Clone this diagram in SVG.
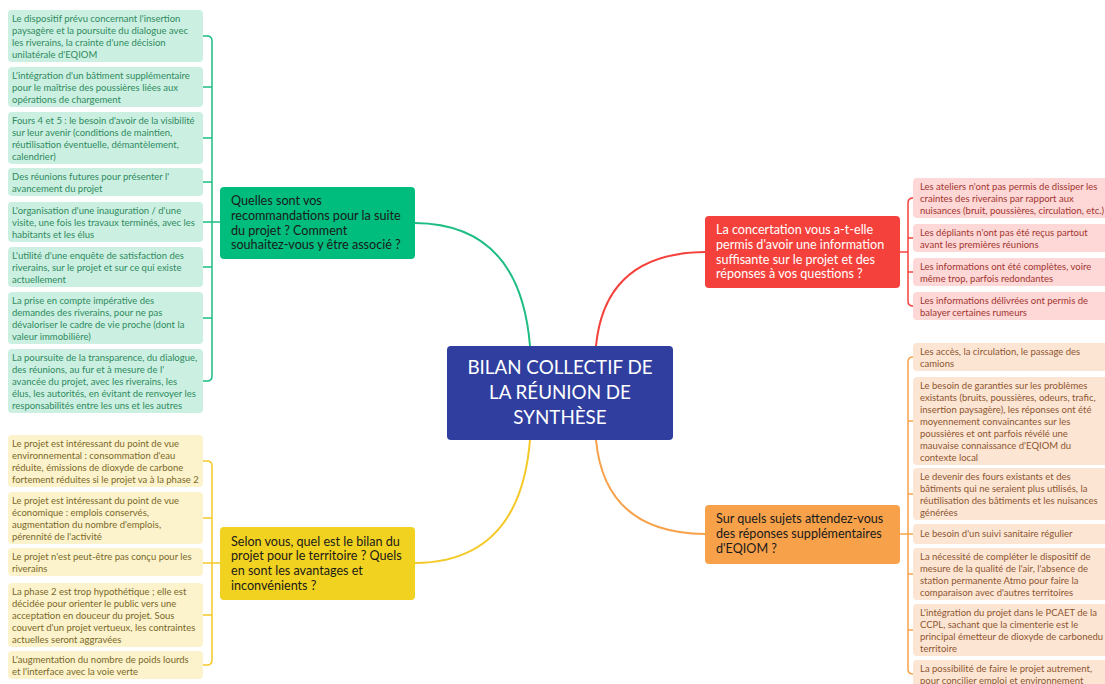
<svg xmlns="http://www.w3.org/2000/svg" width="1105" height="684" viewBox="0 0 1105 684">
<style>
text{font-family:Lato,"Liberation Sans",sans-serif}
.lf{font-size:9.5px}
.tp{font-size:12.6px}
.g rect.leaf{fill:#cbf0e1}
.g text{fill:#2f8a60}
.y rect.leaf{fill:#fcf3cc}
.y text{fill:#7a6828}
.r rect.leaf{fill:#fdd8d7}
.r text{fill:#a2352f}
.o rect.leaf{fill:#fde5d4}
.o text{fill:#8c5630}
.ln{fill:none;stroke-width:2}
.br{fill:none;stroke-width:1.5}
.ct{font-size:18.8px;fill:#fff;text-anchor:middle}
</style>
<g id="connectors">
<path class="ln" stroke="#1dbd83" d="M415,223 Q520,224 530,346"/>
<path class="ln" stroke="#f5c928" d="M415,563 Q520,562 530,440"/>
<path class="ln" stroke="#f5413b" d="M705,252 Q605,253 596,346"/>
<path class="ln" stroke="#f7a24b" d="M705,534 Q605,533 596,440"/>
<path class="br" stroke="#1dbd83" d="M203,36 H207 Q212,36 212,41 V376 Q212,381 207,381 H203 M203,87 H212 M203,138 H212 M203,182 H212 M203,222 H220 M203,267 H212 M203,318 H212"/>
<path class="br" stroke="#f5c928" d="M203,461 H207 Q212,461 212,466 V660 Q212,665 207,665 H203 M203,518 H212 M203,563 H220 M203,615 H212"/>
<path class="br" stroke="#f5413b" d="M913,198 H913 Q908,198 908,203 V301 Q908,306 913,306 M908,238 H913 M908,272 H913 M900,252 H908"/>
<path class="br" stroke="#f7a24b" d="M913,357 Q908,357 908,362 V669 Q908,674 913,674 M908,421 H913 M908,494 H913 M900,534 H913 M908,574 H913 M908,630 H913"/>
</g>
<g id="central">
<rect x="447" y="346" width="226" height="94" rx="4" fill="#303f9f"/>
<text class="ct" x="560" y="374">BILAN COLLECTIF DE</text>
<text class="ct" x="560" y="399">LA RÉUNION DE</text>
<text class="ct" x="560" y="424">SYNTHÈSE</text>
</g>
<g id="topic-green">
<rect x="220" y="187" width="195" height="72" rx="4" fill="#00bc7d"/>
<text class="tp" x="231" y="205" fill="#1a1a1a">Quelles sont vos</text>
<text class="tp" x="231" y="219.8" fill="#1a1a1a">recommandations pour la suite</text>
<text class="tp" x="231" y="234.6" fill="#1a1a1a">du projet ? Comment</text>
<text class="tp" x="231" y="249.4" fill="#1a1a1a">souhaitez-vous y être associé ?</text>
</g>
<g id="topic-yellow">
<rect x="220" y="527" width="195" height="73" rx="4" fill="#f2d220"/>
<text class="tp" x="231" y="545.5" fill="#1a1a1a">Selon vous, quel est le bilan du</text>
<text class="tp" x="231" y="560.3" fill="#1a1a1a">projet pour le territoire ? Quels</text>
<text class="tp" x="231" y="575.1" fill="#1a1a1a">en sont les avantages et</text>
<text class="tp" x="231" y="589.9" fill="#1a1a1a">inconvénients ?</text>
</g>
<g id="topic-red">
<rect x="705" y="216" width="195" height="72" rx="4" fill="#f5413b"/>
<text class="tp" x="716" y="234" fill="#fff">La concertation vous a-t-elle</text>
<text class="tp" x="716" y="248.8" fill="#fff">permis d'avoir une information</text>
<text class="tp" x="716" y="263.6" fill="#fff">suffisante sur le projet et des</text>
<text class="tp" x="716" y="278.4" fill="#fff">réponses à vos questions ?</text>
</g>
<g id="topic-orange">
<rect x="705" y="505" width="195" height="59" rx="4" fill="#f7a24b"/>
<text class="tp" x="716" y="523" fill="#1a1a1a">Sur quels sujets attendez-vous</text>
<text class="tp" x="716" y="537.8" fill="#1a1a1a">des réponses supplémentaires</text>
<text class="tp" x="716" y="552.6" fill="#1a1a1a">d'EQIOM ?</text>
</g>
<g class="g">
<g id="g1"><rect class="leaf" x="8" y="10" width="195" height="52" rx="4"/>
<text class="lf" x="12" y="22">Le dispositif prévu concernant l'insertion</text>
<text class="lf" x="12" y="34">paysagère et la poursuite du dialogue avec</text>
<text class="lf" x="12" y="46">les riverains, la crainte d'une décision</text>
<text class="lf" x="12" y="58">unilatérale d'EQIOM</text></g>
<g id="g2"><rect class="leaf" x="8" y="67" width="195" height="40" rx="4"/>
<text class="lf" x="12" y="79">L'intégration d'un bâtiment supplémentaire</text>
<text class="lf" x="12" y="91">pour le maîtrise des poussières liées aux</text>
<text class="lf" x="12" y="103">opérations de chargement</text></g>
<g id="g3"><rect class="leaf" x="8" y="112" width="195" height="52" rx="4"/>
<text class="lf" x="12" y="124">Fours 4 et 5 : le besoin d'avoir de la visibilité</text>
<text class="lf" x="12" y="136">sur leur avenir (conditions de maintien,</text>
<text class="lf" x="12" y="148">réutilisation éventuelle, démantèlement,</text>
<text class="lf" x="12" y="160">calendrier)</text></g>
<g id="g4"><rect class="leaf" x="8" y="168" width="195" height="28" rx="4"/>
<text class="lf" x="12" y="180">Des réunions futures pour présenter l'</text>
<text class="lf" x="12" y="192">avancement du projet</text></g>
<g id="g5"><rect class="leaf" x="8" y="202" width="195" height="40" rx="4"/>
<text class="lf" x="12" y="214">L'organisation d'une inauguration / d'une</text>
<text class="lf" x="12" y="226">visite, une fois les travaux terminés, avec les</text>
<text class="lf" x="12" y="238">habitants et les élus</text></g>
<g id="g6"><rect class="leaf" x="8" y="247" width="195" height="40" rx="4"/>
<text class="lf" x="12" y="259">L'utilité d'une enquête de satisfaction des</text>
<text class="lf" x="12" y="271">riverains, sur le projet et sur ce qui existe</text>
<text class="lf" x="12" y="283">actuellement</text></g>
<g id="g7"><rect class="leaf" x="8" y="292" width="195" height="52" rx="4"/>
<text class="lf" x="12" y="304">La prise en compte impérative des</text>
<text class="lf" x="12" y="316">demandes des riverains, pour ne pas</text>
<text class="lf" x="12" y="328">dévaloriser le cadre de vie proche (dont la</text>
<text class="lf" x="12" y="340">valeur immobilière)</text></g>
<g id="g8"><rect class="leaf" x="8" y="349" width="195" height="64" rx="4"/>
<text class="lf" x="12" y="361">La poursuite de la transparence, du dialogue,</text>
<text class="lf" x="12" y="373">des réunions, au fur et à mesure de l'</text>
<text class="lf" x="12" y="385">avancée du projet, avec les riverains, les</text>
<text class="lf" x="12" y="397">élus, les autorités, en évitant de renvoyer les</text>
<text class="lf" x="12" y="409">responsabilités entre les uns et les autres</text></g>
</g>
<g class="y">
<g id="y1"><rect class="leaf" x="8" y="435" width="195" height="52" rx="4"/>
<text class="lf" x="12" y="447">Le projet est intéressant du point de vue</text>
<text class="lf" x="12" y="459">environnemental : consommation d'eau</text>
<text class="lf" x="12" y="471">réduite, émissions de dioxyde de carbone</text>
<text class="lf" x="12" y="483">fortement réduites si le projet va à la phase 2</text></g>
<g id="y2"><rect class="leaf" x="8" y="492" width="195" height="52" rx="4"/>
<text class="lf" x="12" y="504">Le projet est intéressant du point de vue</text>
<text class="lf" x="12" y="516">économique : emplois conservés,</text>
<text class="lf" x="12" y="528">augmentation du nombre d'emplois,</text>
<text class="lf" x="12" y="540">pérennité de l'activité</text></g>
<g id="y3"><rect class="leaf" x="8" y="548" width="195" height="28" rx="4"/>
<text class="lf" x="12" y="560">Le projet n'est peut-être pas conçu pour les</text>
<text class="lf" x="12" y="572">riverains</text></g>
<g id="y4"><rect class="leaf" x="8" y="583" width="195" height="64" rx="4"/>
<text class="lf" x="12" y="595">La phase 2 est trop hypothétique ; elle est</text>
<text class="lf" x="12" y="607">décidée pour orienter le public vers une</text>
<text class="lf" x="12" y="619">acceptation en douceur du projet. Sous</text>
<text class="lf" x="12" y="631">couvert d'un projet vertueux, les contraintes</text>
<text class="lf" x="12" y="643">actuelles seront aggravées</text></g>
<g id="y5"><rect class="leaf" x="8" y="651" width="195" height="28" rx="4"/>
<text class="lf" x="12" y="663">L'augmentation du nombre de poids lourds</text>
<text class="lf" x="12" y="675">et l'interface avec la voie verte</text></g>
</g>
<g class="r">
<g id="r1"><rect class="leaf" x="913" y="178" width="200" height="40" rx="4"/>
<text class="lf" x="920" y="190">Les ateliers n'ont pas permis de dissiper les</text>
<text class="lf" x="920" y="202">craintes des riverains par rapport aux</text>
<text class="lf" x="920" y="214">nuisances (bruit, poussières, circulation, etc.)</text></g>
<g id="r2"><rect class="leaf" x="913" y="224" width="200" height="28" rx="4"/>
<text class="lf" x="920" y="236">Les dépliants n'ont pas été reçus partout</text>
<text class="lf" x="920" y="248">avant les premières réunions</text></g>
<g id="r3"><rect class="leaf" x="913" y="258" width="200" height="28" rx="4"/>
<text class="lf" x="920" y="270">Les informations ont été complètes, voire</text>
<text class="lf" x="920" y="282">même trop, parfois redondantes</text></g>
<g id="r4"><rect class="leaf" x="913" y="292" width="200" height="28" rx="4"/>
<text class="lf" x="920" y="304">Les informations délivrées ont permis de</text>
<text class="lf" x="920" y="316">balayer certaines rumeurs</text></g>
</g>
<g class="o">
<g id="o1"><rect class="leaf" x="913" y="343" width="200" height="28" rx="4"/>
<text class="lf" x="920" y="355">Les accès, la circulation, le passage des</text>
<text class="lf" x="920" y="367">camions</text></g>
<g id="o2"><rect class="leaf" x="913" y="377" width="200" height="88" rx="4"/>
<text class="lf" x="920" y="389">Le besoin de garanties sur les problèmes</text>
<text class="lf" x="920" y="401">existants (bruits, poussières, odeurs, trafic,</text>
<text class="lf" x="920" y="413">insertion paysagère), les réponses ont été</text>
<text class="lf" x="920" y="425">moyennement convaincantes sur les</text>
<text class="lf" x="920" y="437">poussières et ont parfois révélé une</text>
<text class="lf" x="920" y="449">mauvaise connaissance d'EQIOM du</text>
<text class="lf" x="920" y="461">contexte local</text></g>
<g id="o3"><rect class="leaf" x="913" y="468" width="200" height="52" rx="4"/>
<text class="lf" x="920" y="480">Le devenir des fours existants et des</text>
<text class="lf" x="920" y="492">bâtiments qui ne seraient plus utilisés, la</text>
<text class="lf" x="920" y="504">réutilisation des bâtiments et les nuisances</text>
<text class="lf" x="920" y="516">générées</text></g>
<g id="o4"><rect class="leaf" x="913" y="524" width="200" height="20" rx="4"/>
<text class="lf" x="920" y="537">Le besoin d'un suivi sanitaire régulier</text></g>
<g id="o5"><rect class="leaf" x="913" y="548" width="200" height="52" rx="4"/>
<text class="lf" x="920" y="560">La nécessité de compléter le dispositif de</text>
<text class="lf" x="920" y="572">mesure de la qualité de l'air, l'absence de</text>
<text class="lf" x="920" y="584">station permanente Atmo pour faire la</text>
<text class="lf" x="920" y="596">comparaison avec d'autres territoires</text></g>
<g id="o6"><rect class="leaf" x="913" y="604" width="200" height="52" rx="4"/>
<text class="lf" x="920" y="616">L'intégration du projet dans le PCAET de la</text>
<text class="lf" x="920" y="628">CCPL, sachant que la cimenterie est le</text>
<text class="lf" x="920" y="640">principal émetteur de dioxyde de carbonedu</text>
<text class="lf" x="920" y="652">territoire</text></g>
<g id="o7"><rect class="leaf" x="913" y="660" width="200" height="28" rx="4"/>
<text class="lf" x="920" y="672">La possibilité de faire le projet autrement,</text>
<text class="lf" x="920" y="684">pour concilier emploi et environnement</text></g>
</g>
</svg>
